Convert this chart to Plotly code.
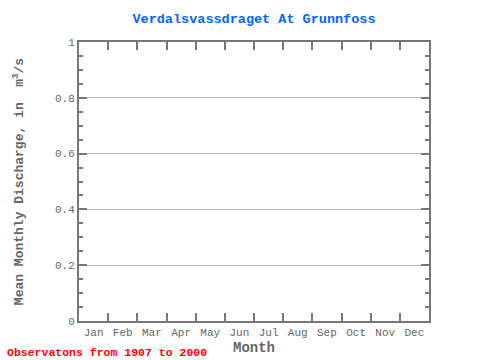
import plotly.graph_objects as go

months = ["Jan", "Feb", "Mar", "Apr", "May", "Jun", "Jul", "Aug", "Sep", "Oct", "Nov", "Dec"]
discharge = [None] * 12  # no data shown
title_text = "Verdalsvassdraget At Grunnfoss"
note_text = "Observatons from 1907 to 2000"

FONT = "Liberation Mono, DejaVu Sans Mono, monospace"
AX = "#777777"

fig = go.Figure(go.Scatter(x=months, y=discharge, mode="lines", showlegend=False))

fig.update_layout(
    width=480, height=360,
    margin=dict(l=79, r=51, t=42, b=39, autoexpand=False),
    paper_bgcolor="white", plot_bgcolor="white",
    font=dict(family=FONT, color="#666666", size=11),
    title=dict(text="<b>" + title_text + "</b>", x=254/480, xanchor="center", y=1-18/360, yanchor="middle",
               font=dict(family=FONT, size=13.5, color="#0066ff")),
    xaxis=dict(type="category", categoryorder="array", categoryarray=months,
               tickson="boundaries", ticks="inside", ticklen=8, tickwidth=2, tickcolor=AX,
               showline=True, linewidth=2, linecolor=AX, mirror="allticks",
               showgrid=False, range=[-0.5, 11.5], tickangle=0, automargin=False,
               title=dict(text="<b>Month</b>", font=dict(size=14, color="#666666"), standoff=4),
               tickfont=dict(size=11, color="#666666")),
    yaxis=dict(range=[0, 1], dtick=0.2, tick0=0, ticks="inside", ticklen=8, tickwidth=2, tickcolor=AX,
               showline=True, linewidth=2, linecolor=AX, mirror="allticks", automargin=False,
               showgrid=True, gridcolor="#bbbbbb", gridwidth=1, zeroline=False,
               minor=dict(dtick=0.05, ticks="inside", ticklen=4, tickwidth=2, tickcolor=AX, showgrid=False),
               title=dict(text="<b>Mean Monthly Discharge, in  m<sup>3</sup>/s</b>", font=dict(size=13, color="#666666"), standoff=28),
               tickfont=dict(size=11, color="#666666")),
    annotations=[dict(text="<b>" + note_text + "</b>", xref="paper", yref="paper",
                      x=(5-79)/350, y=-(352-321)/279, xanchor="left", yanchor="middle",
                      showarrow=False, font=dict(family=FONT, size=11.5, color="#ff0000"))],
)

fig.write_html("out.html", config={"displayModeBar": False},
               post_script="document.body.style.margin='0';")
